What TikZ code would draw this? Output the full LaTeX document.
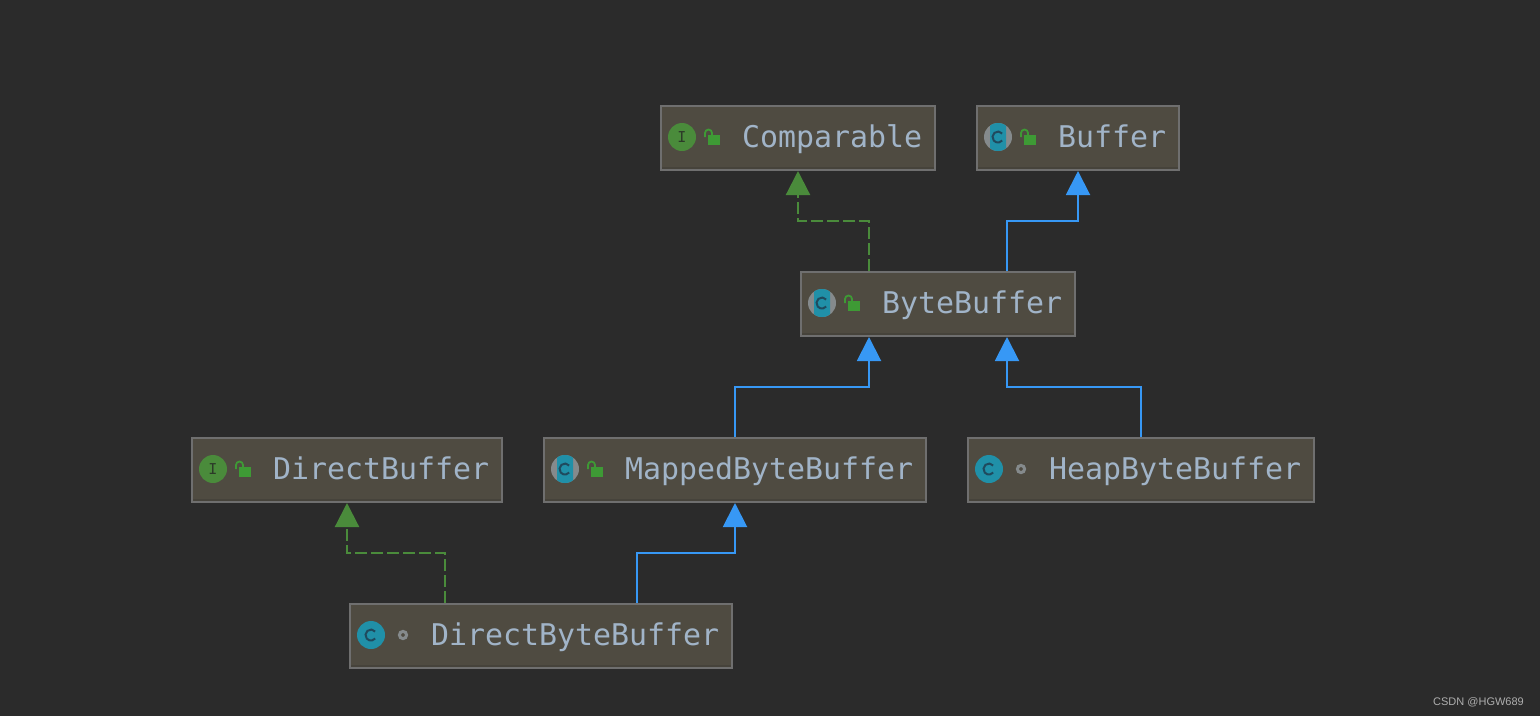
\documentclass[tikz,border=0pt]{standalone}
\usepackage{fontspec}
\setmainfont{Liberation Sans}
\newfontfamily\monof{DejaVu Sans Mono}
\usetikzlibrary{arrows.meta,calc}
\definecolor{bgc}{HTML}{2B2B2B}
\definecolor{boxc}{HTML}{4F4B41}
\definecolor{boxd}{HTML}{46433B}
\definecolor{edgec}{HTML}{6F6F6F}
\definecolor{txtc}{HTML}{A1B4C8}
\definecolor{gr}{HTML}{4A8B3B}
\definecolor{lockc}{HTML}{3E9A35}
\definecolor{bl}{HTML}{3798F5}
\definecolor{teal}{HTML}{2090A8}
\definecolor{greyc}{HTML}{858A8C}
\definecolor{cmark}{HTML}{1F4A5E}
\definecolor{imark}{HTML}{2C3A28}
\tikzset{x=1pt,y=-1pt,
 classbox/.style={draw=edgec,fill=boxc,line width=2pt,minimum height=64pt,inner sep=0pt,anchor=north west},
 classname/.style={text=txtc,font=\monof\fontsize{29.9}{30}\selectfont,anchor=base west,inner sep=0pt},
 extends/.style={xshift=0.5pt,bl,line width=2pt,-{Triangle[length=24pt,width=24pt]}},
 implements/.style={xshift=0.5pt,gr,line width=2.2pt,dash pattern=on 12pt off 4pt,-{Triangle[length=24pt,width=24pt]}},
 iconletter/.style={font=\monof\fontsize{15}{15}\selectfont,inner sep=0pt}}
% #1 name, #2 left, #3 right, #4 top, #5 icon macro, #6 visibility macro, #7 text
\newcommand{\classnode}[7]{%
 \node[classbox,minimum width=#3pt-#2pt-2pt] (#1) at (#2,#4) {};
 \draw[boxd,line width=2pt] ($(#1.south west)+(2,-3)$) -- ($(#1.south east)+(-2,-3)$);
 \coordinate (#1i) at ($(#1.north west)+(22,32)$);
 \coordinate (#1v) at ($(#1.north west)+(45,32)$);
 #5{#1i}
 #6{#1v}
 \node[classname] (#1t) at ($(#1.north west)+(82,42)$) {#7};
}
\newcommand{\cmarkdraw}[1]{\draw[cmark,line width=2pt] ($(#1)+(4.2,-3.5)$) arc[start angle=40,end angle=320,radius=5.5pt];}
\newcommand{\iconI}[1]{\fill[gr] (#1) circle[radius=14pt];
 \node[iconletter,text=imark] at (#1) {I};}
\newcommand{\iconC}[1]{\fill[teal] (#1) circle[radius=14pt];
 \cmarkdraw{#1}}
\newcommand{\iconA}[1]{\fill[greyc] (#1) circle[radius=14pt];
 \begin{scope}\clip ($(#1)+(-8,-14)$) rectangle ($(#1)+(8,14)$);
 \fill[teal] (#1) circle[radius=14pt];\end{scope}
 \cmarkdraw{#1}}
\newcommand{\visL}[1]{\fill[lockc] ($(#1)+(3,-2)$) rectangle ($(#1)+(15,8)$);
 \draw[lockc,line width=1.8pt] ($(#1)+(0,0)$) -- ($(#1)+(0,-4)$) arc[start angle=180,end angle=0,radius=3.5pt] -- ($(#1)+(7,-2)$);}
\newcommand{\visD}[1]{\draw[greyc,line width=3pt] ($(#1)+(9,0)$) circle[radius=3.6pt];}
\begin{document}
\begin{tikzpicture}
\useasboundingbox (0,0) rectangle (1540,716);
\fill[bgc] (0,0) rectangle (1540,716);
\classnode{cmp}{660}{936}{105}{\iconI}{\visL}{Comparable}
\classnode{buf}{976}{1180}{105}{\iconA}{\visL}{Buffer}
\classnode{bb}{800}{1076}{271}{\iconA}{\visL}{ByteBuffer}
\classnode{db}{191}{503}{437}{\iconI}{\visL}{DirectBuffer}
\classnode{mbb}{543}{927}{437}{\iconA}{\visL}{MappedByteBuffer}
\classnode{hbb}{967}{1315}{437}{\iconC}{\visD}{HeapByteBuffer}
\classnode{dbb}{349}{733}{603}{\iconC}{\visD}{DirectByteBuffer}
\draw[implements] ([xshift=-69pt]bb.north) -- ++(0,-50) -| (cmp.south);
\draw[extends] ([xshift=69pt]bb.north) -- ++(0,-50) -| (buf.south);
\draw[extends] (mbb.north) -- ++(0,-50) -| ([xshift=-69pt]bb.south);
\draw[extends] (hbb.north) -- ++(0,-50) -| ([xshift=69pt]bb.south);
\draw[implements] ([xshift=-96pt]dbb.north) -- ++(0,-50) -| (db.south);
\draw[extends] ([xshift=96pt]dbb.north) -- ++(0,-50) -| (mbb.south);
\node[text=white!62!bgc,font=\fontsize{11}{12}\selectfont,anchor=base east,inner sep=0pt] (wm) at (1524,705) {CSDN @HGW689};
\end{tikzpicture}
\end{document}
